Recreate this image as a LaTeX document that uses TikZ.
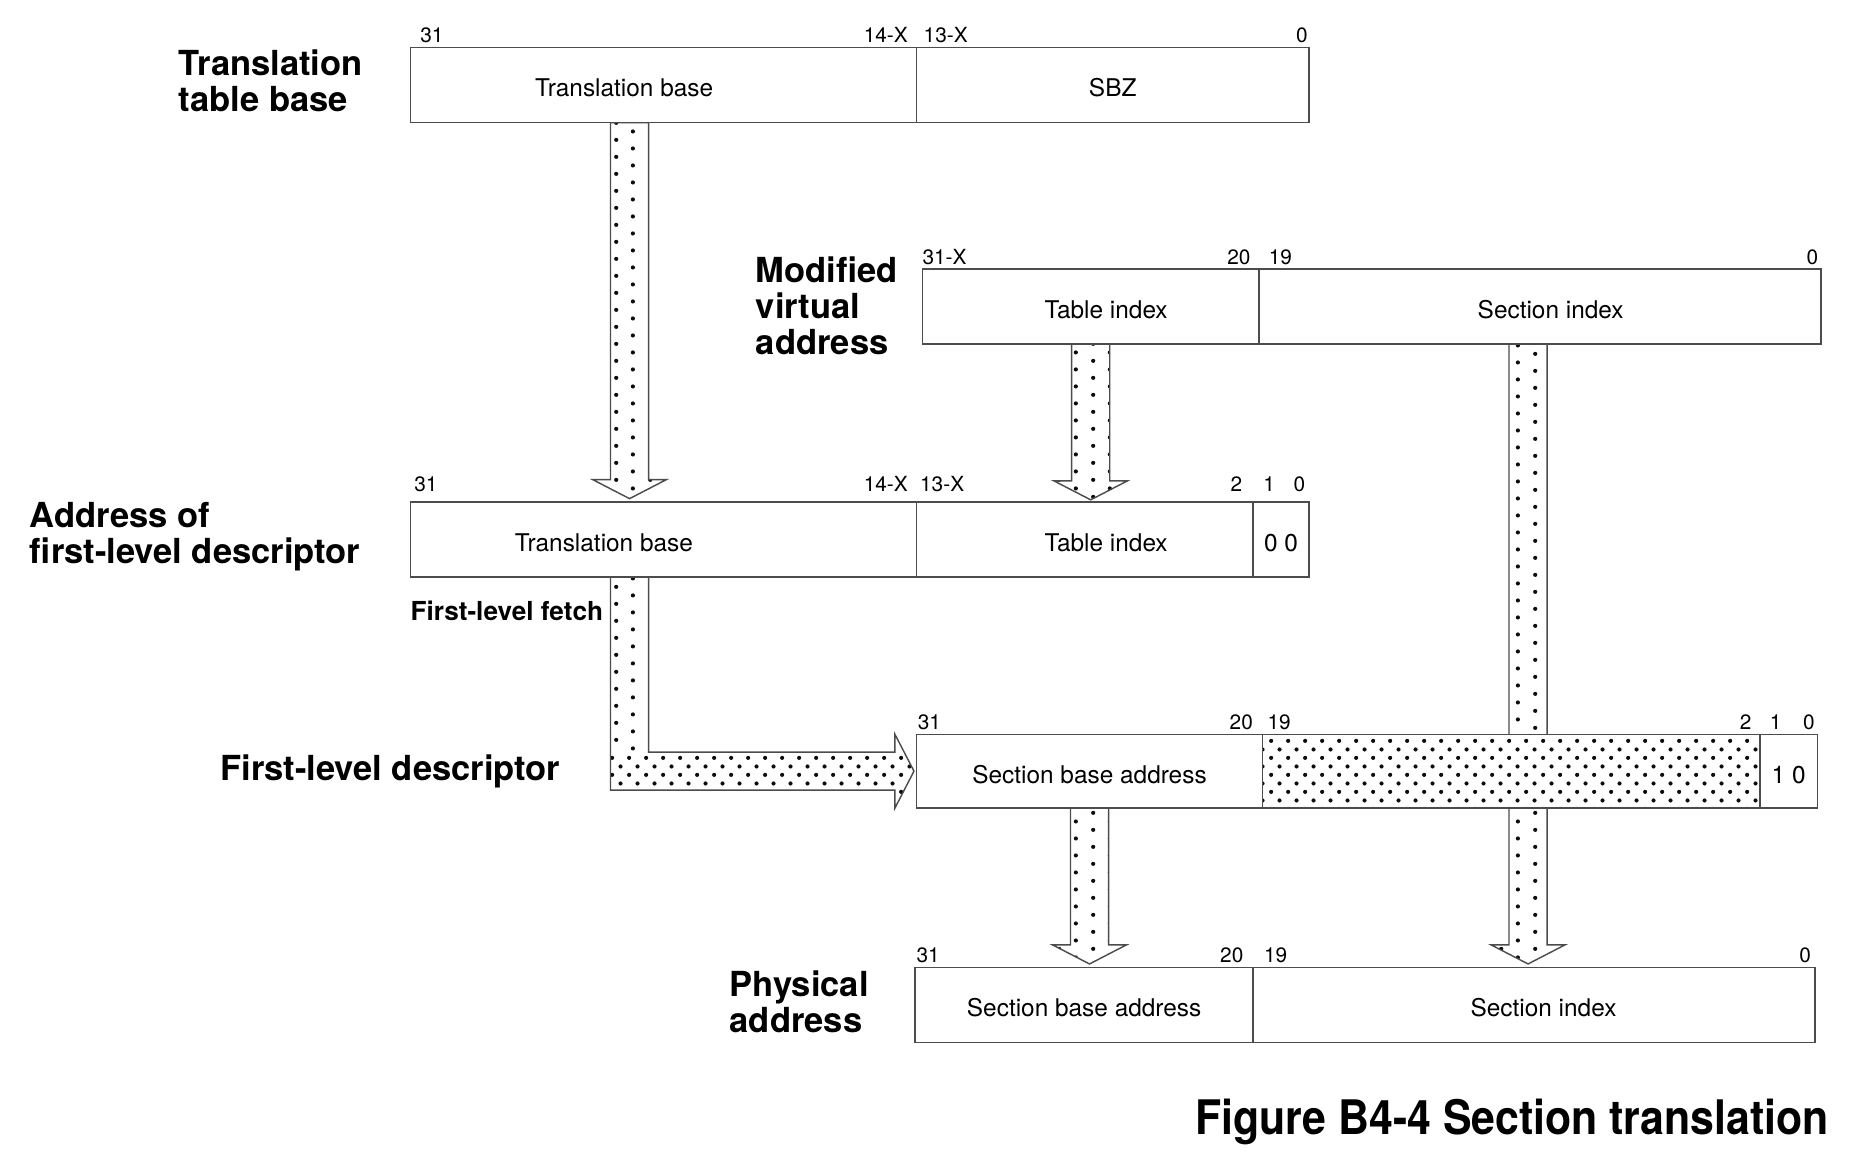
\documentclass[tikz,border=0pt]{standalone}
\usepackage{fontspec}
\setmainfont{TeX Gyre Heros}
\usepackage{graphicx}
\usepackage{tikz}
\usetikzlibrary{positioning, calc, patterns, backgrounds}

\definecolor{linec}{gray}{0.3}
\definecolor{dotc}{gray}{0.05}

\newcommand{\bitfont}{\fontsize{17.5}{20}\selectfont}
\newcommand{\fieldfont}{\fontsize{20.5}{24}\selectfont}
\newcommand{\lblfont}{\fontsize{29}{30}\selectfont\bfseries}

% dots for the downward shafts
\pgfdeclarepatternformonly{vdots}{\pgfpointorigin}{\pgfpoint{28.6pt}{14.6pt}}{\pgfpoint{28.6pt}{14.6pt}}{%
  \pgfpathcircle{\pgfpoint{3.6pt}{3.6pt}}{1.8pt}
  \pgfpathcircle{\pgfpoint{17.9pt}{10.9pt}}{1.8pt}
  \pgfusepath{fill}}
% denser dots for fields and the sideways shaft
\pgfdeclarepatternformonly{hdots}{\pgfpointorigin}{\pgfpoint{14.6pt}{14.6pt}}{\pgfpoint{14.6pt}{14.6pt}}{%
  \pgfpathcircle{\pgfpoint{3.6pt}{3.6pt}}{1.8pt}
  \pgfpathcircle{\pgfpoint{10.9pt}{10.9pt}}{1.8pt}
  \pgfusepath{fill}}

% block arrow going down: #1 top of shaft, #2 tip
\newcommand{\vblock}[2]{%
  \path[blockarrow, pattern=vdots] ($(#1)+(-16,0)$) -- ($(#2)+(-16,-16)$) -- ($(#2)+(-31,-16)$) -- (#2)
    -- ($(#2)+(31,-16)$) -- ($(#2)+(16,-16)$) -- ($(#1)+(16,0)$) -- cycle;}

% block arrow going down, then right: #1 top of shaft, #2 tip
\newcommand{\lblock}[2]{%
  \fill[white] ($(#1)+(-16,0)$) -- ($(#1 |- #2)+(-16,16)$) -- ($(#2)+(-16,16)$) -- ($(#2)+(-16,31)$) -- (#2)
    -- ($(#2)+(-16,-31)$) -- ($(#2)+(-16,-16)$) -- ($(#1 |- #2)+(16,-16)$) -- ($(#1)+(16,0)$) -- cycle;
  \path[pattern=vdots, pattern color=dotc] ($(#1)+(-16,0)$) rectangle ($(#1 |- #2)+(16,-16)$);
  \path[pattern=hdots, pattern color=dotc] ($(#1 |- #2)+(-16,-16)$) -- ($(#2)+(-16,-16)$) -- ($(#2)+(-16,-31)$) -- (#2)
    -- ($(#2)+(-16,31)$) -- ($(#2)+(-16,16)$) -- ($(#1 |- #2)+(-16,16)$) -- cycle;
  \draw[draw=linec, line width=1.2pt, line join=miter] ($(#1)+(-16,0)$) -- ($(#1 |- #2)+(-16,16)$) -- ($(#2)+(-16,16)$) -- ($(#2)+(-16,31)$) -- (#2)
    -- ($(#2)+(-16,-31)$) -- ($(#2)+(-16,-16)$) -- ($(#1 |- #2)+(16,-16)$) -- ($(#1)+(16,0)$) -- cycle;}

\begin{document}
\begin{tikzpicture}[x=1pt, y=-1pt, node distance=0pt,
    field/.style={draw=linec, line width=1.2pt, fill=white, minimum height=63pt, inner sep=0pt, outer sep=0pt, font=\fieldfont, text height=20pt, text depth=0pt, anchor=north west},
    dotfield/.style={field, preaction={fill=white}, pattern=hdots, pattern color=dotc},
    bitl/.style={font=\bitfont, inner sep=0pt, anchor=base west},
    bitr/.style={font=\bitfont, inner sep=0pt, anchor=base east},
    bitc/.style={font=\bitfont, inner sep=0pt, anchor=base},
    lbl/.style={font=\lblfont, align=left, inner sep=0pt, anchor=west},
    blockarrow/.style={draw=linec, line width=1.2pt, preaction={fill=white}, pattern color=dotc, line join=miter}]
  \useasboundingbox (0,0) rectangle (1568,975);

  % translation table base
  \node[field, minimum width=425pt] (tbase) at (345,40) {Translation base\hspace*{66pt}};
  \node[field, minimum width=330pt, right=of tbase] (sbz) {SBZ};
  \node[bitl] at ($(tbase.north west)+(8,-4)$) {31};
  \node[bitr] at ($(tbase.north east)+(-7,-4)$) {14-X};
  \node[bitl] at ($(sbz.north west)+(6,-4)$) {13-X};
  \node[bitr] at ($(sbz.north east)+(-1,-4)$) {0};
  \node[lbl] at (150,68) {Translation\\table base};

  % modified virtual address
  \node[field, minimum width=283pt] (tidx) at (775,226) {\hspace*{26pt}Table index};
  \node[field, minimum width=472pt, right=of tidx] (sidx) {\hspace*{18pt}Section index};
  \node[bitl] at ($(tidx.north west)+(0,-4)$) {31-X};
  \node[bitr] at ($(tidx.north east)+(-7,-4)$) {20};
  \node[bitl] at ($(sidx.north west)+(8,-4)$) {19};
  \node[bitr] at ($(sidx.north east)+(-2,-4)$) {0};
  \node[lbl] at (635,257) {Modified\\virtual\\address};

  % address of first-level descriptor
  \node[field, minimum width=425pt] (ftb) at (345,422) {Translation base\hspace*{100pt}};
  \node[field, minimum width=283pt, right=of ftb] (fti) {\hspace*{36pt}Table index};
  \node[field, minimum width=47pt, right=of fti] (fzero) {0 0};
  \node[bitl] at ($(ftb.north west)+(3,-9)$) {31};
  \node[bitr] at ($(ftb.north east)+(-7,-9)$) {14-X};
  \node[bitl] at ($(fti.north west)+(3,-9)$) {13-X};
  \node[bitr] at ($(fti.north east)+(-9,-9)$) {2};
  \node[bitc] at ($(fzero.north)+(-10,-9)$) {1};
  \node[bitr] at ($(fzero.north east)+(-3,-9)$) {0};
  \node[lbl] at (25,451) {Address of\\first-level descriptor};
  \node[font=\fontsize{22}{24}\selectfont\bfseries, inner sep=0pt, anchor=east] (fetch) at (507,513) {First-level fetch};

  % first-level descriptor
  \node[field, minimum width=291pt, minimum height=62pt] (dsba) at (770,617) {Section base address};
  \node[dotfield, minimum width=418pt, minimum height=62pt, right=of dsba] (ddots) {};
  \node[field, minimum width=48pt, minimum height=62pt, right=of ddots] (dbits) {1 0};
  \node[bitl] at ($(dsba.north west)+(1,-4)$) {31};
  \node[bitr] at ($(dsba.north east)+(-8,-4)$) {20};
  \node[bitl] at ($(ddots.north west)+(4,-4)$) {19};
  \node[bitr] at ($(ddots.north east)+(-7,-4)$) {2};
  \node[bitc] at ($(dbits.north)+(-11,-4)$) {1};
  \node[bitr] at ($(dbits.north east)+(-2,-4)$) {0};
  \node[lbl] at (185,648) {First-level descriptor};

  % physical address
  \node[field, minimum width=284pt] (psba) at (769,813) {Section base address};
  \node[field, minimum width=472pt, right=of psba] (psi) {\hspace*{16pt}Section index};
  \node[bitl] at ($(psba.north west)+(1,-4)$) {31};
  \node[bitr] at ($(psba.north east)+(-8,-4)$) {20};
  \node[bitl] at ($(psi.north west)+(9,-4)$) {19};
  \node[bitr] at ($(psi.north east)+(-3,-4)$) {0};
  \node[lbl] at (613,842) {Physical\\address};

  \node[inner sep=0pt, anchor=east] (caption) at (1537,943)
    {\scalebox{0.9}[1]{\fontsize{40}{44}\selectfont\bfseries Figure B4-4 Section translation}};

  % arrows behind the fields
  \coordinate (a1s) at ($(tbase.south west)+(184,0)$);
  \coordinate (a1e) at ($(a1s |- ftb.north)+(0,-3)$);
  \coordinate (a2e) at ($(tidx.south |- fti.north)+(0,-2)$);
  \coordinate (a3s) at ($(ftb.south west)+(184,0)$);
  \coordinate (a3e) at ($(dsba.west)+(-2,0)$);
  \coordinate (a4s) at ($(sidx.south)+(-10,0)$);
  \coordinate (a4e) at ($(a4s |- psi.north)+(0,-3)$);
  \coordinate (a5e) at ($(dsba.south |- psba.north)+(0,-3)$);
  \begin{pgfonlayer}{background}
    \vblock{a1s}{a1e}
    \vblock{tidx.south}{a2e}
    \lblock{a3s}{a3e}
    \vblock{a4s}{a4e}
    \vblock{dsba.south}{a5e}
  \end{pgfonlayer}
\end{tikzpicture}
\end{document}
